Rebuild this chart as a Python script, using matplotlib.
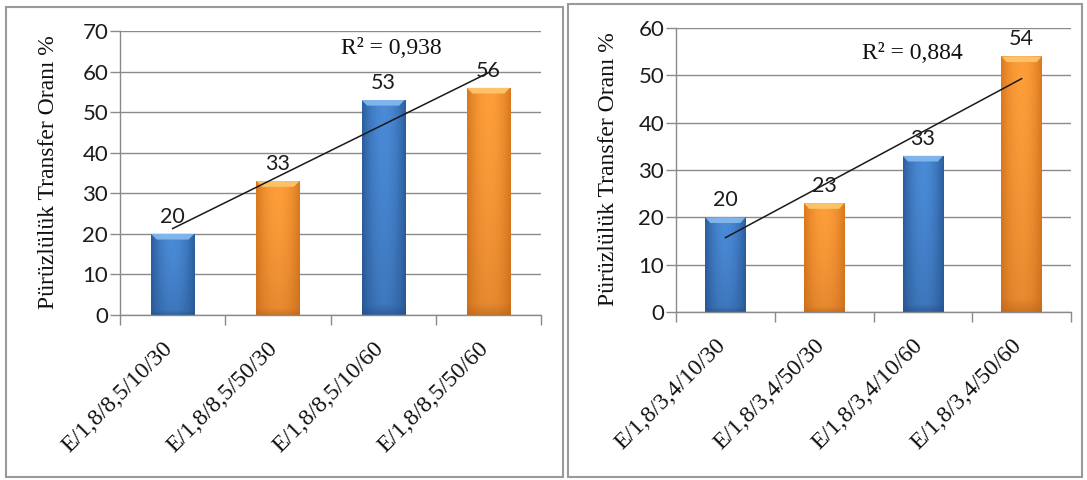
import numpy as np
import matplotlib
matplotlib.use("Agg")
import matplotlib.pyplot as plt
from matplotlib.patches import Rectangle, Polygon
from matplotlib.colors import to_rgb
from matplotlib.transforms import ScaledTranslation

# ---- data -------------------------------------------------------------
left_categories = ["E/1,8/8,5/10/30", "E/1,8/8,5/50/30",
                   "E/1,8/8,5/10/60", "E/1,8/8,5/50/60"]
left_values = [20, 33, 53, 56]
left_r2 = "0,938"

right_categories = ["E/1,8/3,4/10/30", "E/1,8/3,4/50/30",
                    "E/1,8/3,4/10/60", "E/1,8/3,4/50/60"]
right_values = [20, 23, 33, 54]
right_r2 = "0,884"

y_label = "Pürüzlülük Transfer Oranı %"

# ---- style ------------------------------------------------------------
SERIF = "Liberation Serif"
SANS = "Lato"
GRID = "#8a8a8a"
BLUE = dict(edge="#2b5d9c", center="#4a8ad6", bottom="#244f86", bevel="#86baf0")
ORANGE = dict(edge="#d9781f", center="#fd9e3a", bottom="#b9621b", bevel="#ffc76e")
bar_styles = [BLUE, ORANGE, BLUE, ORANGE]

W, H = 1087, 480
fig = plt.figure(figsize=(W / 100, H / 100), dpi=100)
fig.patch.set_facecolor("white")


def gradient_image(style, nx=80, ny=200):
    edge = np.array(to_rgb(style["edge"]))
    center = np.array(to_rgb(style["center"]))
    bottom = np.array(to_rgb(style["bottom"]))
    t = np.linspace(0, 1, nx)
    prof = 1 - np.abs(2 * t - 1) ** 2.0
    img = edge[None, None, :] + (center - edge)[None, None, :] * prof[None, :, None]
    img = np.repeat(img, ny, axis=0)
    v = np.linspace(0, 1, ny)[:, None, None]
    # gentle darkening towards the base of the bar
    wb = 0.35 * (1 - v) ** 1.5 + 0.35 * np.clip(1 - v / 0.05, 0, 1)
    img = img * (1 - wb) + bottom[None, None, :] * wb
    return np.clip(img, 0, 1)


def draw_panel(ax, cats, vals, r2, ymax, r2_xy):
    x = np.arange(len(cats))
    bars = ax.bar(x, vals, width=0.41, color=[s["center"] for s in bar_styles],
                  zorder=2, linewidth=0)
    ax.set_xlim(-0.5, len(cats) - 0.5)
    ax.set_ylim(0, ymax)
    bevel_h = ymax * 0.02
    for bar, st in zip(bars, bar_styles):
        bx, bw, bh = bar.get_x(), bar.get_width(), bar.get_height()
        im = ax.imshow(gradient_image(st), extent=(bx, bx + bw, 0, bh),
                       origin="lower", aspect="auto", zorder=2.5,
                       interpolation="bilinear")
        im.set_clip_path(bar)
        inset = bw * 0.13
        bev = Polygon([(bx, bh), (bx + bw, bh), (bx + bw - inset, bh - bevel_h),
                       (bx + inset, bh - bevel_h)], closed=True,
                      facecolor=st["bevel"], edgecolor="none", alpha=0.9, zorder=3)
        ax.add_patch(bev)
        ax.annotate(f"{bh:g}", (bx + bw / 2, bh), xytext=(0, 5),
                    textcoords="offset points", ha="center", va="bottom",
                    fontsize=15.5, family=SANS, color="#1c1c1c", zorder=5)
    ax.set_aspect("auto")
    ax.set_xlim(-0.5, len(cats) - 0.5)
    ax.set_ylim(0, ymax)

    # linear trend line across the bar centres
    k, b = np.polyfit(x, vals, 1)
    ax.plot([x[0], x[-1]], [k * x[0] + b, k * x[-1] + b], color="#1a1a1a",
            lw=1.1, zorder=4)
    ax.text(r2_xy[0], r2_xy[1], f"R² = {r2}", ha="center", va="center",
            fontsize=17, family=SERIF, color="#111111", zorder=5)

    # axes styling
    ax.set_yticks(np.arange(0, ymax + 1, 10))
    ax.yaxis.grid(True, color=GRID, lw=1.0, zorder=0)
    ax.set_axisbelow(True)
    for side in ("top", "right"):
        ax.spines[side].set_visible(False)
    for side in ("left", "bottom"):
        ax.spines[side].set_color(GRID)
        ax.spines[side].set_linewidth(1.0)
    ax.tick_params(axis="y", length=7, width=1.0, color=GRID, pad=1.5,
                   labelsize=16, labelcolor="#1c1c1c")
    for lab in ax.get_yticklabels():
        lab.set_family(SANS)
    ax.set_xticks(x)
    ax.set_xticks(np.arange(-0.5, len(cats)), minor=True)
    ax.tick_params(axis="x", which="major", length=0, pad=22)
    ax.tick_params(axis="x", which="minor", length=7, width=1.0, color=GRID)
    ax.set_xticklabels(cats, rotation=45, ha="right", va="center",
                       rotation_mode="anchor", fontsize=17, family=SERIF,
                       color="#111111")
    shift = ScaledTranslation(-0.03, 0, fig.dpi_scale_trans)
    for lab in ax.get_xticklabels():
        lab.set_transform(lab.get_transform() + shift)
    ax.set_ylabel(y_label, fontsize=17, family=SERIF, color="#111111",
                  va="center")


def px_axes(x0, x1, y_top, y_bot):
    return [x0 / W, 1 - y_bot / H, (x1 - x0) / W, (y_bot - y_top) / H]


ax1 = fig.add_axes(px_axes(120, 541, 31, 315))
draw_panel(ax1, left_categories, left_values, left_r2, 70, (2.08, 65.7))
ax1.yaxis.set_label_coords((49 - 120) / 421, (315 - 172) / 284)

ax2 = fig.add_axes(px_axes(676, 1071, 28, 312))
draw_panel(ax2, right_categories, right_values, right_r2, 60, (1.89, 54.7))
ax2.yaxis.set_label_coords((608 - 676) / 395, (312 - 169) / 284)

# panel frames
for (x0, y0, x1, y1) in [(6, 7, 563, 477), (568, 4, 1082, 477)]:
    fig.add_artist(Rectangle((x0 / W, 1 - y1 / H), (x1 - x0) / W, (y1 - y0) / H,
                             transform=fig.transFigure, fill=False,
                             edgecolor="#9a9a9a", lw=1.5))

fig.savefig("out.png", dpi=100, facecolor="white")
